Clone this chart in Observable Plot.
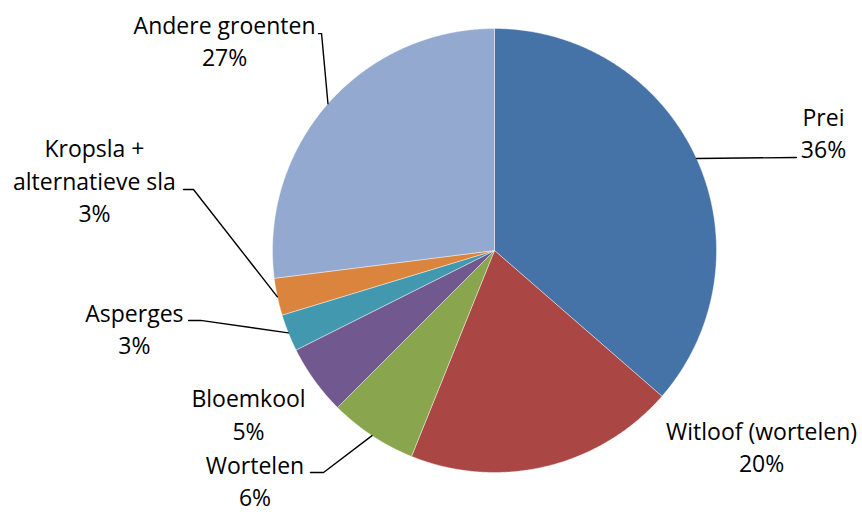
<!DOCTYPE html>
<html>
<head>
<meta charset="utf-8">
<script src="https://cdn.jsdelivr.net/npm/d3@7"></script>
<script src="https://cdn.jsdelivr.net/npm/@observablehq/plot@0.6"></script>
<style>
  html, body { margin: 0; padding: 0; background: #fff; }
  #chart svg { display: block; }
</style>
</head>
<body>
<div id="chart"></div>
<script>
// ---- data ----
const categories = ["Prei", "Witloof (wortelen)", "Wortelen", "Bloemkool", "Asperges", "Kropsla + alternatieve sla", "Andere groenten"];
const labelLines = ["Prei", "Witloof (wortelen)", "Wortelen", "Bloemkool", "Asperges", "Kropsla +\nalternatieve sla", "Andere groenten"];
const values = [36.4, 19.7, 6.4, 5.1, 2.7, 2.7, 27.0];
const colors = ["#4572A7", "#AA4643", "#89A54E", "#71588F", "#4198AF", "#DB843D", "#93A9CF"];

// ---- layout (in pie-radius units, centre = 0,0) ----
const W = 862, H = 516, R = 222, CX = 494, CY = 250;
const labelPos = [
  [1.482, 0.537], [1.203, -0.880], [-1.079, -1.032], [-1.108, -0.733],
  [-1.622, -0.348], [-1.802, 0.321], [-1.216, 0.948]
];
// leader elbows: [x start, x elbow, y] or null
const leaders = [
  [1.360, 1.360, 0.419], null, [-0.829, -0.770, -1.000], null,
  [-1.378, -1.324, -0.315], [-1.401, -1.356, 0.275], [-0.793, -0.779, 0.977]
];

const total = d3.sum(values);
let acc = 0;
const slices = values.map((v, i) => {
  const a0 = acc / total * 2 * Math.PI;
  acc += v;
  const a1 = acc / total * 2 * Math.PI;
  return {name: categories[i], i, a0, a1, mid: (a0 + a1) / 2, pct: Math.round(v / total * 100)};
});

const polyPts = [];
for (const s of slices) {
  polyPts.push({name: s.name, x: 0, y: 0});
  const n = Math.max(2, Math.ceil((s.a1 - s.a0) / (Math.PI / 360)));
  for (let k = 0; k <= n; k++) {
    const a = s.a0 + (s.a1 - s.a0) * k / n;
    polyPts.push({name: s.name, x: Math.sin(a), y: Math.cos(a)});
  }
  polyPts.push({name: s.name, x: 0, y: 0});
}

const leaderPts = [];
slices.forEach((s, i) => {
  const L = leaders[i];
  if (!L) return;
  leaderPts.push({name: s.name, x: L[0], y: L[2]});
  leaderPts.push({name: s.name, x: L[1], y: L[2]});
  leaderPts.push({name: s.name, x: Math.sin(s.mid), y: Math.cos(s.mid)});
});

const labels = slices.map((s, i) => ({
  text: labelLines[i] + "\n" + s.pct + "%",
  x: labelPos[i][0], y: labelPos[i][1]
}));

const chart = Plot.plot({
  width: W, height: H,
  margin: 0,
  x: {domain: [-CX / R, (W - CX) / R], axis: null},
  y: {domain: [-(H - CY) / R, CY / R], axis: null},
  color: {domain: categories, range: colors},
  marks: [
    Plot.line(polyPts, {x: "x", y: "y", z: "name", fill: "name", stroke: "#ffffff", strokeWidth: 0.6, strokeOpacity: 0.7, curve: "linear"}),
    Plot.line(leaderPts, {x: "x", y: "y", z: "name", stroke: "#000", strokeWidth: 1.4}),
    Plot.text(labels, {x: "x", y: "y", text: "text", fontSize: 23, lineHeight: 1.4, fill: "#000", fontFamily: "'Open Sans', Lato, sans-serif", textAnchor: "middle"})
  ]
});
document.getElementById("chart").appendChild(chart);
</script>
</body>
</html>
